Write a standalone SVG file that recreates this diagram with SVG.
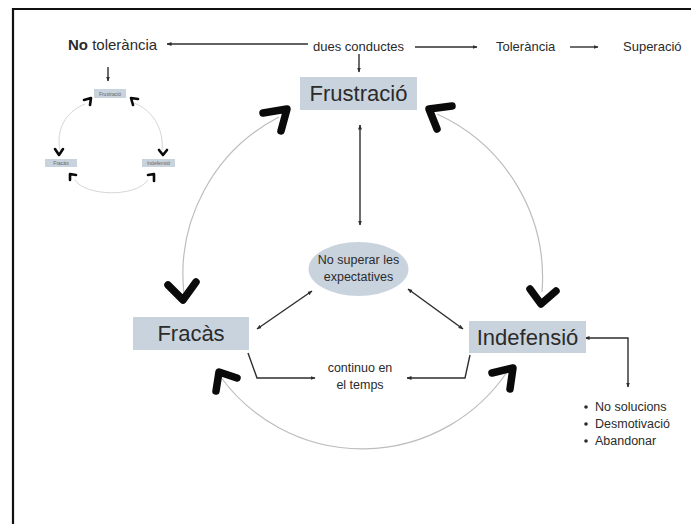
<svg xmlns="http://www.w3.org/2000/svg" width="691" height="524" viewBox="0 0 691 524">
<defs>
<marker id="ah" viewBox="0 0 10 10" refX="9" refY="5" markerWidth="5" markerHeight="5" orient="auto-start-reverse" markerUnits="userSpaceOnUse">
<path d="M0,1 L10,5 L0,9 z" fill="#2e2e2e"/>
</marker>
<style>
text{font-family:"Liberation Sans",Arial,sans-serif;fill:#2b2b2b}
.t13{font-size:13px}
.t12{font-size:12.5px}
.big{font-size:22px;text-anchor:middle}
.mid{text-anchor:middle}
.box{fill:#c9d3de}
.conn{fill:none;stroke:#2e2e2e;stroke-width:1.4}
.arc{fill:none;stroke:#bdbdbd;stroke-width:1.2}
.chev{fill:none;stroke:#0a0a0a;stroke-width:7.5;stroke-linecap:round;stroke-linejoin:round}
.chevs{fill:none;stroke:#0a0a0a;stroke-width:2.6;stroke-linecap:round;stroke-linejoin:round}
.arcs{fill:none;stroke:#d0d0d0;stroke-width:0.9}
.mini{font-size:5px;text-anchor:middle;fill:#666}
</style>
</defs>
<rect width="691" height="524" fill="#ffffff"/>
<path d="M13 524 V9 H691" fill="none" stroke="#111" stroke-width="2.2"/>

<g id="connectors">
<line class="conn" x1="308" y1="44" x2="167" y2="44" marker-end="url(#ah)"/>
<line class="conn" x1="415" y1="47" x2="477" y2="47" marker-end="url(#ah)"/>
<line class="conn" x1="570" y1="47" x2="598" y2="47" marker-end="url(#ah)"/>
<line class="conn" x1="108" y1="67" x2="108" y2="81" marker-end="url(#ah)"/>
<line class="conn" x1="359" y1="54" x2="359" y2="72" marker-end="url(#ah)"/>
<line class="conn" x1="360" y1="125" x2="360" y2="225" marker-start="url(#ah)" marker-end="url(#ah)"/>
<line class="conn" x1="257" y1="329" x2="312" y2="291" marker-start="url(#ah)" marker-end="url(#ah)"/>
<line class="conn" x1="408" y1="289" x2="463" y2="329" marker-start="url(#ah)" marker-end="url(#ah)"/>
<polyline class="conn" points="248,353 257,378 315,378" marker-end="url(#ah)"/>
<polyline class="conn" points="470,355 465,378 407,378" marker-end="url(#ah)"/>
<polyline class="conn" points="628,387 628,338 585,338" marker-start="url(#ah)" marker-end="url(#ah)"/>
<path class="arc" d="M279 117 A177 177 0 0 0 184 294"/>
<path class="arc" d="M437 114 A180 180 0 0 1 542 292"/>
<path class="arc" d="M220 376 A175 175 0 0 0 507 372"/>
<polyline class="chev" points="263,113 287,109 281,131"/>
<polyline class="chev" points="452,106 429,109 437,129"/>
<polyline class="chev" points="168,285 183,300 196,282"/>
<polyline class="chev" points="530,289 541,304 556,291"/>
<polyline class="chev" points="237,378 219,372 216,391"/>
<polyline class="chev" points="492,373 513,368 510,389"/>
<path class="arcs" d="M85 104 C65 112 56 130 60 150"/>
<path class="arcs" d="M134 103 C152 110 164 128 162 150"/>
<path class="arcs" d="M75 180 C85 196 135 198 148 180"/>
<polyline class="chevs" points="84,100 91,98 90,105"/>
<polyline class="chevs" points="138,99 131,98 133,105"/>
<polyline class="chevs" points="55,149 59,155 63,149"/>
<polyline class="chevs" points="159,150 163,155 167,150"/>
<polyline class="chevs" points="76,175 70,174 70,180"/>
<polyline class="chevs" points="148,175 154,174 154,181"/>
</g>

<g id="no-tolerancia"><text x="68" y="50" style="font-size:15px"><tspan font-weight="bold">No</tspan> tolerància</text></g>
<g id="dues-conductes"><text class="t13" x="313" y="51">dues conductes</text></g>
<g id="tolerancia"><text class="t13" x="496" y="51">Tolerància</text></g>
<g id="superacio"><text class="t13" x="623" y="51">Superació</text></g>

<g id="frustracio"><rect class="box" x="300" y="77" width="117" height="33"/><text class="big" x="358.5" y="101">Frustració</text></g>
<g id="fracas"><rect class="box" x="133" y="317" width="116" height="33"/><text class="big" x="191" y="341">Fracàs</text></g>
<g id="indefensio"><rect class="box" x="469" y="321" width="117" height="32"/><text class="big" x="527.5" y="345">Indefensió</text></g>
<g id="expectatives"><ellipse class="box" cx="358.5" cy="269" rx="50" ry="27"/><text class="t12 mid" x="358.5" y="264">No superar les</text><text class="t12 mid" x="358.5" y="281">expectatives</text></g>
<g id="continuo"><text class="t12 mid" x="360" y="372">continuo en</text><text class="t12 mid" x="360" y="389">el temps</text></g>
<g id="llista">
<circle cx="586" cy="407" r="1.8" fill="#2b2b2b"/><text class="t12" x="595" y="411">No solucions</text>
<circle cx="586" cy="424" r="1.8" fill="#2b2b2b"/><text class="t12" x="595" y="428">Desmotivació</text>
<circle cx="586" cy="441" r="1.8" fill="#2b2b2b"/><text class="t12" x="595" y="445">Abandonar</text>
</g>

<g id="mini-frustracio"><rect class="box" x="94" y="89" width="32" height="9"/><text class="mini" x="110" y="95.5">Frustració</text></g>
<g id="mini-fracas"><rect class="box" x="45" y="159" width="32" height="8"/><text class="mini" x="61" y="165">Fracàs</text></g>
<g id="mini-indefensio"><rect class="box" x="142" y="159" width="33" height="8"/><text class="mini" x="158.5" y="165">Indefensió</text></g>
</svg>
